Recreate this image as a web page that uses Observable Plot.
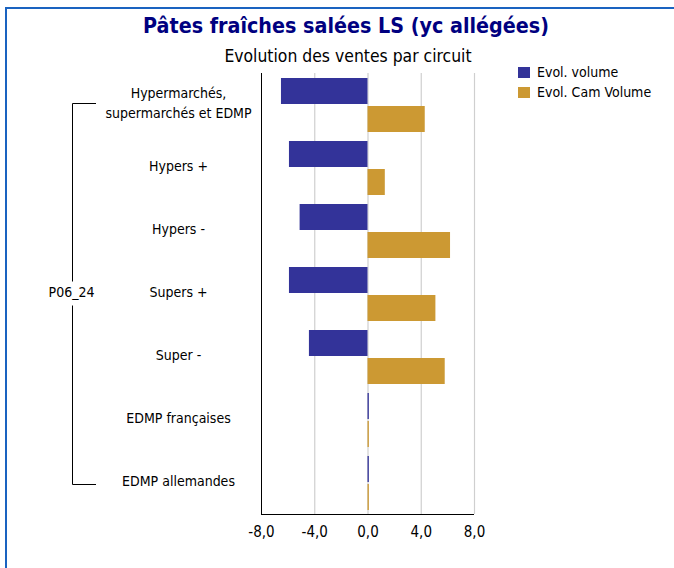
<!DOCTYPE html>
<html>
<head>
<meta charset="utf-8">
<script src="https://cdn.jsdelivr.net/npm/d3@7"></script>
<script src="https://cdn.jsdelivr.net/npm/@observablehq/plot@0.6"></script>
<style>
  body { margin: 0; background: #fff; }
  #wrap { position: relative; width: 674px; height: 568px; overflow: hidden; font-family: "DejaVu Sans Condensed", "DejaVu Sans", sans-serif; background: #fff; }
  #frame { position: absolute; left: 5px; top: 7px; width: 700px; height: 600px; border-left: 2px solid #1a63c0; border-top: 2px solid #1a63c0; }
  #title { position: absolute; left: 346px; top: 15px; transform: translateX(-50%); white-space: nowrap; font: bold 21.3px/21px "DejaVu Sans Condensed", "DejaVu Sans", sans-serif; color: #000080; }
  #subtitle { position: absolute; left: 348px; top: 47px; transform: translateX(-50%); white-space: nowrap; font: 17.4px/18px "DejaVu Sans Condensed", "DejaVu Sans", sans-serif; color: #000; }
  #legend { position: absolute; left: 518px; top: 62px; font: 14px/20px "DejaVu Sans Condensed", "DejaVu Sans", sans-serif; color: #000; }
  #legend .item { display: flex; align-items: center; height: 20px; }
  #legend .sw { width: 12px; height: 11px; margin-right: 7px; }
  #chart { position: absolute; left: 0; top: 64px; }
</style>
</head>
<body>
<div id="wrap">
  <div id="frame"></div>
  <div id="title"></div>
  <div id="subtitle"></div>
  <div id="legend"></div>
  <div id="chart"></div>
</div>
<script>
const titleText = "Pâtes fraîches salées LS (yc allégées)";
const subtitleText = "Evolution des ventes par circuit";
const categories = [
  "Hypermarchés,\nsupermarchés et EDMP",
  "Hypers +",
  "Hypers -",
  "Supers +",
  "Super -",
  "EDMP françaises",
  "EDMP allemandes"
];
const seriesNames = ["Evol. volume", "Evol. Cam Volume"];
const volume    = [-6.5, -5.9, -5.1, -5.9, -4.4, 0.1, 0.1];
const camVolume = [ 4.3,  1.3,  6.2,  5.1,  5.8, 0.1, 0.1];
const seriesColors = ["#333399", "#CC9933"];
const xTicks = [-8, -4, 0, 4, 8];
const groupLabel = "P06_24";

document.getElementById("title").textContent = titleText;
document.getElementById("subtitle").textContent = subtitleText;
const legend = document.getElementById("legend");
seriesNames.forEach((s, i) => {
  const it = document.createElement("div");
  it.className = "item";
  const sw = document.createElement("div");
  sw.className = "sw";
  sw.style.background = seriesColors[i];
  const t = document.createElement("span");
  t.textContent = s;
  it.appendChild(sw); it.appendChild(t);
  legend.appendChild(it);
});

const rows = categories.flatMap((c, i) => [
  {cat: c, series: seriesNames[0], value: volume[i]},
  {cat: c, series: seriesNames[1], value: camVolume[i]}
]);

const W = 674, H = 504, mT = 8, mB = 54, mL = 261, mR = 200;
const condensed = "DejaVu Sans Condensed, DejaVu Sans, sans-serif";

const plot = Plot.plot({
  width: W, height: H,
  marginTop: mT, marginBottom: mB, marginLeft: mL, marginRight: mR,
  style: {fontFamily: condensed, fontSize: "15px", color: "#000", background: "transparent"},
  x: {domain: [-8, 8], label: null},
  y: {domain: seriesNames, axis: null, paddingInner: 0.08, paddingOuter: 0.16},
  fy: {domain: categories, padding: 0, axis: null},
  color: {domain: seriesNames, range: seriesColors},
  marks: [
    Plot.ruleX(xTicks.slice(1), {stroke: "#cfcfcf", strokeWidth: 1.2}),
    Plot.barX(rows, {fy: "cat", y: "series", x: "value", fill: "series"}),
    Plot.ruleX([xTicks[0]], {stroke: "#000", strokeWidth: 1}),
    Plot.axisX(xTicks, {tickFormat: d => d.toFixed(1).replace(".", ","), tickSize: 0, tickPadding: 12,
      fontSize: 15, fontFamily: condensed, label: null, fill: "#000"}),
    Plot.text(categories, {fy: d => d, text: d => d, frameAnchor: "left", dx: -83, dy: -3.5, textAnchor: "middle",
      lineHeight: 1.4, fontSize: 14, fontFamily: condensed, fill: "#000"})
  ]
});
document.getElementById("chart").appendChild(plot);

const svg = d3.select(plot.tagName.toLowerCase() === "svg" ? plot : plot.querySelector("svg"));
const xs = plot.scale("x");
const fys = plot.scale("fy");
const yBottom = H - mB;
svg.append("line")
  .attr("x1", xs.apply(xTicks[0])).attr("x2", xs.apply(xTicks[xTicks.length - 1]))
  .attr("y1", yBottom + 0.5).attr("y2", yBottom + 0.5)
  .attr("stroke", "#000").attr("stroke-width", 1);

// bracket grouping all circuits
const bw = fys.bandwidth;
const yTop = fys.apply(categories[0]) + bw / 2 - 1;
const yBot = fys.apply(categories[categories.length - 1]) + bw / 2 + 1;
const bx = 72.5, tickEnd = 96;
const yMid = (yTop + yBot) / 2;
const g = svg.append("g").attr("stroke", "#000").attr("stroke-width", 1).attr("fill", "none");
g.append("path").attr("d", `M${tickEnd},${Math.round(yTop) - 0.5}H${bx}V${yMid - 12}`);
g.append("path").attr("d", `M${tickEnd},${Math.round(yBot) + 0.5}H${bx}V${yMid + 12}`);
svg.append("text")
  .attr("x", bx - 1).attr("y", yMid - 1.5).attr("dy", "0.35em")
  .attr("text-anchor", "middle")
  .attr("font-family", condensed)
  .attr("font-size", 14).attr("fill", "#000")
  .text(groupLabel);
</script>
</body>
</html>
